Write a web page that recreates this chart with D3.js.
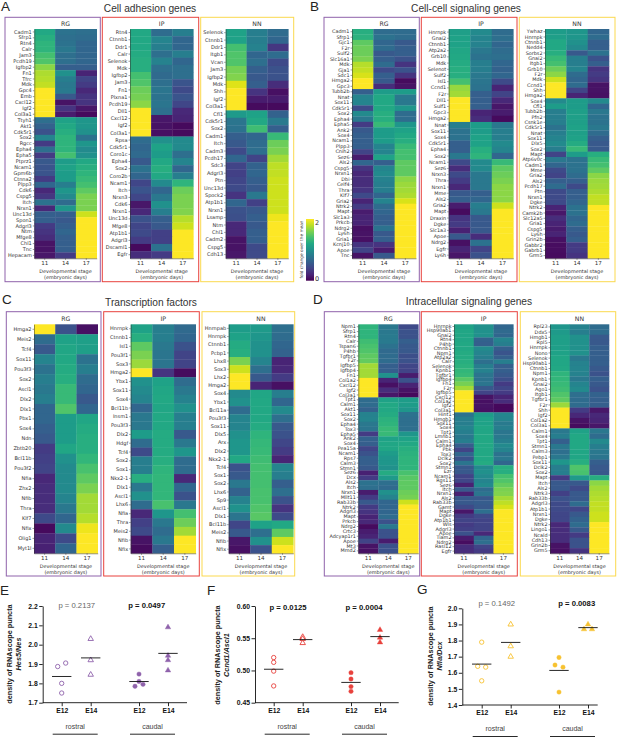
<!DOCTYPE html>
<html lang="en">
<head>
  <meta charset="UTF-8">
  <title>Gene expression heatmaps and RNAscope puncta</title>
  <script src="https://d3js.org/d3.v7.min.js"></script>
  <style>
    body { margin: 0; background: #fff; }
    svg { display: block; }
    text { fill: #333; font-family: "DejaVu Sans", sans-serif; }
    .sans text, text.sans { font-family: "Liberation Sans", Arial, sans-serif; }
    .heat-axis path, .heat-axis line { stroke: #333; stroke-width: 0.5px; }
    .dots-axis path, .dots-axis line { stroke: #111; stroke-width: 0.9px; }
  </style>
</head>
<body>
<svg width="617" height="737" id="figure"></svg>

<script>
  const stages = ['11', '14', '17'];

  // A - cell adhesion genes
  const adhesionRgGenes = ['Cadm1','Sfrp1','Rtn4','Calr','Jam3','Pcdh19','Igfbp2','Fn1','Tfrc','Mdk','Gpc4','Emb','Cxcl12','Igf2','Col3a1','Ttyh1','Akt1','Cdk5r1','Sox2','Rgcc','Epha4','Epha5','Ptprz1','Ncam1','Gpm6b','Ctnna2','Plpp3','Cdk6','Cspg5','Itch','Nrxn1','Unc13d','Spon1','Adgrl3','Ntm','Mfge8','Chl1','Tnc','Hepacam'];
  const adhesionRgValues = [[1.2,.75,.72],[1.25,.72,.7],[1.3,.75,.65],[1.3,.8,.65],[1.4,.72,.65],[1.45,.72,.65],[1.65,.6,.6],[1.75,1,.2],[1.78,.85,.4],[1.82,.8,.35],[2,.82,.22],[2,.55,.3],[2,.1,.3],[2,.3,.12],[2,.15,.05],[.72,1.15,1.05],[.62,1.2,1.05],[.5,1.25,1],[.9,1.3,.75],[.35,1.3,1.05],[.72,1.3,.95],[.35,1.4,1],[.55,1.1,1.2],[.52,1.15,1.25],[.52,1.1,1.3],[.35,1.1,1.35],[.65,.85,1.4],[.22,1.05,1.5],[.32,.95,1.6],[.75,.7,1.6],[.22,1.05,1.6],[.6,.6,1.85],[.6,.55,2],[.35,.6,2],[.3,.65,2],[.25,.6,2],[.1,.6,2],[.1,.6,2],[.12,.35,2]];
  const adhesionIpGenes = ['Rtn4','Ctnnb1','Ddr1','Calr','Selenok','Mdk','Igfbp2','Jam3','Fn1','Plxna1','Pcdh19','Dll1','Cxcl12','Igf2','Col3a1','Rpsa','Cdk5r1','Coro1c','Epha4','Sox2','Coro2b','Ncam1','Itch','Nrxn3','Cdk6','Nrxn1','Unc13d','Mfge8','Atp1b1','Adgrl3','Dscaml1','Egfr'];
  const adhesionIpValues = [[1.2,.7,.85],[1.2,.9,.65],[1.2,.85,.65],[1.22,.72,.85],[1.25,.88,.65],[1.25,.72,.72],[1.4,.68,.72],[1.45,.72,.52],[1.55,.78,.45],[1.58,.75,.52],[1.65,.78,.42],[2,.72,.22],[2,.12,.2],[2,.1,.05],[2,.08,.05],[.7,1,.95],[.65,1.15,.95],[.68,1.1,.72],[.55,1.2,.9],[.75,1.25,.65],[.65,1.2,.85],[.42,.95,1.3],[.52,.65,1.55],[.42,.8,1.6],[.12,1,1.6],[.22,.85,1.62],[.5,.6,1.78],[.42,.55,1.85],[.45,.38,2],[.35,.38,2],[.05,.75,2],[.25,.35,2]];
  const adhesionNnGenes = ['Selenok','Ctnnb1','Ddr1','Itgb1','Vcan','Jam3','Igfbp2','Mdk','Shh','Igf2','Col3a1','Cfl1','Cdk5r1','Sox2','Cadm1','Itch','Cadm3','Pcdh17','Sdc3','Adgrl3','Ptn','Unc13d','Spock2','Atp1b1','Nrxn1','Lsamp','Ntm','Chl1','Cadm2','Cspg5','Cdh13'];
  const adhesionNnValues = [[1.15,.85,.7],[1.15,.85,.65],[1.4,.88,.32],[1.45,.65,.7],[1.45,.72,.45],[1.58,.6,.5],[1.62,.55,.5],[1.9,.6,.25],[2,.3,.08],[2,.15,.15],[2,.06,.05],[1.08,1.15,.62],[.78,1.2,.82],[.75,1.38,.6],[.6,.65,1.35],[.55,.7,1.55],[.45,.72,1.6],[.65,.4,1.72],[.4,.62,1.8],[.38,.65,1.82],[.42,.6,1.85],[.45,.55,1.85],[.3,.8,1.85],[.65,.38,1.85],[.5,.55,1.85],[.48,.6,1.95],[.22,.55,2],[.22,.6,2],[.1,.6,2],[.1,.45,2],[.12,.45,2]];

  // B - cell-cell signaling genes
  const signalingRgGenes = ['Cadm1','Sfrp1','Gjc1','F2r','Sulf2','Slc16a1','Mdk','Gja1','Sdc1','Hmga2','Gpc3','Tubb2b','Nnat','Sox11','Cdk5r1','Sox2','Epha4','Epha5','Ank2','Sox4','Ncam1','Plpp3','Cnih2','Sez6','Als2','Cspg5','Nrxn1','Dbi','Celf4','Thra','Klf7','Gria2','Ntrk2','Mapt','Slc1a3','Prkcb','Ndrg2','Ly6h','Gria1','Kcnj10','Apoe','Tnc'];
  const signalingRgValues = [[1.25,.7,.7],[1.28,.75,.7],[1.5,.65,.55],[1.55,.7,.6],[1.55,.55,.6],[1.6,.6,.5],[1.78,.7,.3],[1.82,.45,.5],[1.88,.6,.3],[2,.55,.06],[2,.25,.1],[.6,1.1,1.1],[.9,1.2,.8],[.9,1.2,.8],[.45,1.2,1.05],[.95,1.25,.7],[.8,1.25,.7],[.35,1.35,1.05],[.55,1.1,1.15],[.6,1.1,1.2],[.6,1.1,1.25],[.6,.9,1.35],[.4,.9,1.4],[.15,1.15,1.4],[.65,.6,1.5],[.3,.9,1.5],[.22,.95,1.5],[.25,.88,1.65],[.25,.85,1.7],[.3,.85,1.72],[.45,.65,1.75],[.2,.9,1.88],[.35,.7,2],[.15,.65,2],[.2,.6,2],[.2,.6,2],[.08,.75,2],[.1,.55,2],[.08,.6,2],[.3,.3,2],[.4,.15,2],[.1,.55,2]];
  const signalingIpGenes = ['Hnrnpk','Gnai2','Ctnnb1','Atp2a2','Grb10','Mdk','Selenot','Sulf2','Isl1','Ccnd1','F2r','Dll1','Sulf1','Gpc3','Hmga2','Nnat','Sox11','Sox4','Cdk5r1','Epha4','Sox2','Ncam1','Sez6','Nrxn3','Thra','Nrxn1','Mme','Als2','Gria2','Mapt','Draxin','Dgke','Slc1a3','Apoe','Ndrg2','Egfr','Ly6h'];
  const signalingIpValues = [[1.12,.95,.7],[1.15,.9,.72],[1.15,.88,.65],[1.18,.8,.7],[1.2,.75,.72],[1.22,.85,.65],[1.25,.85,.62],[1.25,.8,.65],[1.4,.78,.45],[1.68,.75,.2],[1.72,.6,.4],[2,.6,.22],[2,.6,.12],[2,.2,.15],[2,.25,.05],[.85,1.1,.8],[.75,1.1,.85],[.75,1.15,.85],[.6,1.15,.95],[.6,1.25,.9],[.8,1.3,.65],[.45,.95,1.35],[.25,.95,1.5],[.45,.8,1.55],[.35,.8,1.6],[.22,.8,1.65],[.55,.6,1.65],[.6,.65,1.65],[.15,.85,1.85],[.06,.8,2],[.3,.55,2],[.35,.55,2],[.18,.55,2],[.55,.25,2],[.08,.75,2],[.2,.4,2],[.12,.5,2]];
  const signalingNnGenes = ['Ywhaz','Hnrnpk','Ctnnb1','Nedd4','Sorbs2','Gnai2','Itgb1','Grb10','F2r','Mdk','Ccnd1','Shh','Hmga2','Sox4','Cfl1','Tubb2b','Pfn2','Csnk1e','Cdk5r1','Nnat','Sox11','Dlx5','Sox2','Mapt','Atp6v0c','Cadm1','Mme','Gria2','Als2','Pcdh17','Ptn','Nrxn1','Dgke','Ntrk2','Camk2b','Slc12a5','Gria1','Cspg5','Ly6h','Grin2b','Gabbr2','Gabrb1','Grm5'];
  const signalingNnValues = [[1.1,1.05,.65],[1.12,1.05,.7],[1.2,1,.6],[1.2,.95,.6],[1.25,.55,.75],[1.35,.85,.5],[1.4,.85,.6],[1.55,.9,.3],[1.65,.7,.35],[1.85,.65,.3],[2,.7,.1],[2,.4,.1],[2,.2,.08],[.95,1.1,.95],[1.1,1.1,.65],[.85,1.12,.8],[.85,1.12,.75],[.85,1.12,.75],[.75,1.15,.8],[.85,1.12,.7],[.9,1.15,.6],[.95,1.22,.55],[.85,1.35,.55],[.4,1.1,1.25],[.8,.75,1.35],[.65,.75,1.4],[.45,.75,1.5],[.4,.7,1.65],[.6,.6,1.7],[.7,.45,1.72],[.45,.6,1.75],[.45,.6,1.82],[.45,.65,1.82],[.2,.75,2],[.12,.75,2],[.25,.65,2],[.2,.7,2],[.15,.6,2],[.2,.55,2],[.08,.6,2],[.07,.35,2],[.07,.35,2],[.06,.3,2]];

  // C - transcription factors
  const factorRgGenes = ['Hmga2','Meis2','Tcf4','Sox11','Pou3f3','Sox2','Ascl1','Dlx2','Dlx1','Pbx1','Sox4','Ndn','Zbtb20','Bcl11b','Pou3f2','Nfia','Zhx2','Nfib','Thra','Klf7','Nfix','Olig1','Myt1l'];
  const factorRgValues = [[2,.5,.08],[.7,1.15,1.12],[.55,1.18,1.12],[.9,1.2,.75],[.75,1.22,.85],[.85,1.25,.7],[.8,1.35,.65],[.85,1.35,.55],[.65,1.45,.65],[.65,1.1,1.18],[.6,1.1,1.22],[.55,1.1,1.25],[.35,1.18,1.25],[.38,1,1.32],[.4,.95,1.42],[.22,.95,1.5],[.25,.95,1.6],[.25,.9,1.72],[.25,.8,1.72],[.45,.65,1.78],[.05,.95,1.95],[.2,.45,2],[.18,.65,2]];
  const factorIpGenes = ['Hnrnpk','Ctnnb1','Isl1','Pou3f1','Sox3','Hmga2','Ybx1','Sox11','Sox4','Bcl11b','Insm1','Pou3f3','Dlx2','Hdgf','Tcf4','Sox2','Sox1','Nkx2-1','Dlx1','Ascl1','Lhx6','Nfia','Thra','Meis2','Nfib','Nfix'];
  const factorIpValues = [[1.15,.85,.68],[1.25,.85,.65],[1.5,.8,.5],[1.6,.78,.4],[1.7,.78,.4],[2,.3,.06],[1,1.15,.7],[.95,1.18,.8],[.9,1.2,.88],[.65,1.18,1],[.8,1.2,.85],[.8,1.2,.85],[1.1,1.22,.55],[.7,1.22,.8],[.45,1.22,1.05],[.85,1.25,.7],[.85,1.3,.7],[1.25,1.32,.22],[.8,1.32,.65],[1,1.32,.5],[.7,1.42,.8],[.22,1.05,1.4],[.38,.8,1.55],[.45,.7,1.72],[.1,.8,2],[.06,.6,2]];
  const factorNnGenes = ['Hnrnpab','Hnrnpk','Ctnnb1','Pcbp1','Lhx8','Sox3','Lhx2','Hmga2','Sox4','Ybx1','Bcl11a','Pou3f3','Sox11','Dlx5','Arx','Dlx2','Nkx2-1','Tcf4','Sox1','Sox2','Lhx6','Sp9','Ascl1','Dlx1','Bcl11b','Meis2','Nfib','Nfix'];
  const factorNnValues = [[1.1,1.08,.72],[1.15,1.05,.7],[1.22,1,.65],[1.25,1,.62],[1.6,.9,.2],[1.85,.72,.22],[2,.55,.35],[2,.2,.08],[.95,1.18,.85],[1,1.2,.65],[.7,1.2,.95],[.9,1.2,.72],[.9,1.22,.55],[1,1.3,.5],[1.05,1.33,.42],[1.05,1.35,.35],[1.2,1.38,.2],[.5,1.4,.9],[.55,1.4,.85],[.8,1.4,.6],[.62,1.42,.72],[.88,1.42,.5],[1.02,1.45,.3],[.78,1.48,.45],[.42,1.15,1.2],[.55,.72,1.5],[.12,1,1.85],[.08,.5,2]];

  // D - intracellular signaling genes
  const intraRgGenes = ['Npm1','Sfrp1','Rtn4','Calr','Tspan6','P4hb','Tgfbr1','F2r','Igfbp5','Igfbp4','Fn1','Col1a2','Cxcl12','Igf2','Col3a1','Tpt1','Calm1','Akt1','Sox11','Sox2','Epha4','Tox3','Epha5','Ank2','Sox4','Pea15a','Ncam1','Rps7','Calm3','Stmn1','Sez6','Dcx','Als2','Itch','Nrxn1','Mllt11','Rab33b','Ntrk2','Adgrl3','Mapt','Prkcb','Ndrg2','Crtc3','Adcyap1r1','Apoe','Mt3','Mmd2'];
  const intraRgValues = [[1.3,.8,.45],[1.3,.8,.5],[1.3,.82,.5],[1.38,.82,.6],[1.42,.75,.55],[1.45,.68,.55],[1.5,.7,.48],[1.52,.7,.5],[1.72,.6,.42],[1.72,.6,.4],[1.72,1,.15],[2,.2,.5],[2,.08,.2],[2,.25,.1],[2,.12,.04],[.7,1.15,1.1],[.7,1.2,1.1],[.62,1.2,1.05],[.88,1.22,.75],[.9,1.28,.72],[.8,1.3,.72],[.78,1.35,.72],[.35,1.35,1.05],[.62,1.15,1.15],[.6,1.18,1.2],[.42,1.18,1.25],[.5,1.1,1.28],[.6,1.05,1.3],[.6,1.05,1.3],[.55,1,1.3],[.18,1.22,1.42],[.35,1.08,1.48],[.75,.72,1.5],[.72,.68,1.5],[.15,1,1.55],[.35,.9,1.58],[.55,.65,1.85],[.35,.65,2],[.3,.65,2],[.2,.7,2],[.22,.5,2],[.06,.8,2],[.15,.5,2],[.2,.5,2],[.4,.15,2],[.1,.5,2],[.08,.5,2]];
  const intraIpGenes = ['Hnrnpk','Hsp90ab1','Gnai2','Rtn4','P4hb','Ctnnb1','Npm1','Atp2a2','Calr','Selenok','Kpnb1','Tgfbr1','Igfbp4','Fn1','F2r','Igfbp5','Cxcl12','Col1a2','Igf2','Col3a1','Hint1','Hmgb1','Sox11','Sox4','Tpt1','Lmnb1','Calm1','Epha4','Pbk','Tox3','Dclk2','Sox2','Stmn1','Ezr','Ncam1','Rgs11','Sez6','Itch','Nrxn1','Als2','Rab33b','Gamt','Mapt','Dgke','Atp1b1','Wls','Adgrl3','Apoe','Tiam2','Ndrg2','Rasl12','Egfr'];
  const intraIpValues = [[1.15,1,.65],[1.18,1,.68],[1.18,1,.65],[1.18,.62,.9],[1.2,.6,.85],[1.2,.95,.6],[1.22,.9,.52],[1.22,.85,.6],[1.25,.72,.85],[1.28,.85,.6],[1.32,.88,.6],[1.35,.78,.55],[1.48,.75,.48],[1.58,.78,.35],[1.72,.55,.42],[2,.4,.35],[2,.1,.2],[2,.08,.25],[2,.1,.04],[2,.08,.04],[.75,1.1,.92],[.85,1.15,.9],[.85,1.15,.82],[.9,1.18,.85],[.85,1.18,.78],[.8,1.2,.8],[.85,1.2,.85],[.6,1.2,.95],[.4,1.2,.9],[.65,1.2,.75],[.5,1.2,.8],[.78,1.22,.65],[.55,.95,1.25],[.55,1,1.25],[.4,.95,1.4],[.42,.9,1.45],[.18,.95,1.52],[.55,.7,1.6],[.18,.78,1.62],[.55,.55,1.72],[.55,.58,1.8],[.45,.55,1.88],[.12,.72,2],[.35,.45,2],[.4,.4,2],[.35,.4,2],[.38,.4,2],[.5,.22,2],[.15,.65,2],[.07,.72,2],[.25,.4,2],[.25,.35,2]];
  const intraNnGenes = ['Rpl23','Ddx5','Hmgb1','Rpl5','Hnrnpk','Nono','Selenok','Hsp90ab1','Ctnnb1','Npm1','Kpnb1','Gnai2','Ago1','Itgb1','Tgfbr1','F2r','Shh','Igf2','Col1a2','Col3a1','Calm1','Sox4','Tpt1','Stmn1','Calm3','Pebp1','Sox11','Dclk2','Sox2','Mapt','Itch','Als2','Ntrk3','Rab33b','Adgrl3','Atp1b1','Nrxn1','Dgke','Ntrk2','Lingo1','Ncald','Cdh13','Grin2b','Grm5'];
  const intraNnValues = [[1.05,.88,.7],[1.08,.85,.7],[1.12,1,.55],[1.12,1,.55],[1.12,1,.6],[1.15,1,.6],[1.18,.8,.6],[1.18,.88,.6],[1.2,.9,.55],[1.3,.88,.5],[1.32,.8,.6],[1.35,.9,.55],[1.38,.95,.5],[1.45,.72,.62],[1.5,.7,.6],[1.7,.7,.6],[2,.35,.12],[2,.22,.22],[2,.1,.2],[2,.06,.12],[.8,1.15,.8],[.85,1.2,.7],[.6,1.2,.95],[.8,1.2,.85],[.72,1.18,.8],[.8,1.18,.78],[1.05,1.25,.6],[.85,1.45,.55],[.85,1.42,.55],[.35,1.08,1.25],[.55,.55,1.65],[.55,.45,1.72],[.38,.55,1.75],[.5,.55,1.78],[.45,.7,1.82],[.45,.42,1.82],[.42,.55,1.85],[.42,.62,1.85],[.22,.7,2],[.25,.55,2],[.25,.35,2],[.25,.5,2],[.1,.5,2],[.08,.3,2]];

  // E, F, G - puncta density, one array per group
  const hesRostralE12 = [1.887, 1.905, 1.80, 1.75];
  const hesRostralE14 = [2.03, 1.92, 1.845];
  const hesCaudalE12 = [1.848, 1.81, 1.795, 1.785];
  const hesCaudalE14 = [2.09, 1.943, 1.92, 1.867];
  const ccndRostralE12 = [0.52, 0.5126, 0.499, 0.476];
  const ccndRostralE14 = [0.552, 0.549, 0.5426];
  const ccndCaudalE12 = [0.4966, 0.4867, 0.475, 0.4676];
  const ccndCaudalE14 = [0.563, 0.551, 0.5436];
  const nfiaRostralE12 = [1.79, 1.64, 1.635, 1.55];
  const nfiaRostralE14 = [1.9, 1.765, 1.70];
  const nfiaCaudalE12 = [1.695, 1.648, 1.635, 1.48];
  const nfiaCaudalE14 = [1.9, 1.87, 1.87];

  const purple = '#8f62ab', red = '#e8413c', yellow = '#fbd94e';
  const svg = d3.select('#figure');
  const color = d3.scaleSequential(d3.interpolateViridis).domain([0, 2]);

  function heatmap(cfg) {
    const g = svg.append('g');
    const [boxL, boxR] = cfg.box;
    g.append('rect')
      .attr('x', boxL).attr('y', cfg.top).attr('width', boxR - boxL).attr('height', cfg.bottom - cfg.top)
      .attr('fill', 'none').attr('stroke', cfg.stroke).attr('stroke-width', 1);

    const x = d3.scaleBand().domain(stages).range(cfg.xr);
    const y = d3.scaleBand().domain(cfg.genes).range(cfg.yr);

    cfg.genes.forEach((gene, i) => {
      g.selectAll(null).data(cfg.values[i]).enter().append('rect')
        .attr('x', (d, j) => x(stages[j]))
        .attr('y', y(gene))
        .attr('width', x.bandwidth() + 0.3)
        .attr('height', y.bandwidth() + 0.3)
        .attr('fill', d => color(d));
    });

    const left = g.append('g').attr('class', 'heat-axis')
      .attr('transform', `translate(${cfg.xr[0]},0)`)
      .call(d3.axisLeft(y).tickSize(1.5).tickPadding(1).tickSizeOuter(0));
    left.selectAll('text').style('font-size', cfg.labelSize + 'px');

    const bottom = g.append('g').attr('class', 'heat-axis')
      .attr('transform', `translate(0,${cfg.yr[1]})`)
      .call(d3.axisBottom(x).tickSize(1.5).tickPadding(1.5).tickSizeOuter(0));
    bottom.selectAll('text').style('font-size', '5.6px');

    const cx = (cfg.xr[0] + cfg.xr[1]) / 2;
    g.append('text').attr('x', cx).attr('y', cfg.yr[0] - 3.5).attr('text-anchor', 'middle')
      .style('font-size', '6.2px').text(cfg.name);
    g.append('text').attr('x', cx).attr('y', cfg.yr[1] + 14.2).attr('text-anchor', 'middle')
      .style('font-size', '4.9px').text('Developmental stage');
    g.append('text').attr('x', cx).attr('y', cfg.yr[1] + 20.3).attr('text-anchor', 'middle')
      .style('font-size', '4.9px').text('(embryonic days)');
  }

  const upper = { top: 17.3, bottom: 281.7, yr: [29, 258.3] };
  const lower = { top: 311.7, bottom: 576, yr: [324.3, 553.3] };

  [
    { ...upper, name: 'RG', stroke: purple, genes: adhesionRgGenes, values: adhesionRgValues, xr: [34.3, 96.7], box: [5, 100.3], labelSize: 5 },
    { ...upper, name: 'IP', stroke: red, genes: adhesionIpGenes, values: adhesionIpValues, xr: [130, 193.3], box: [102.3, 198.7], labelSize: 5 },
    { ...upper, name: 'NN', stroke: yellow, genes: adhesionNnGenes, values: adhesionNnValues, xr: [225.7, 288.3], box: [200.7, 293.7], labelSize: 5 },
    { ...upper, name: 'RG', stroke: purple, genes: signalingRgGenes, values: signalingRgValues, xr: [352, 416], box: [324, 419.3], labelSize: 4.9 },
    { ...upper, name: 'IP', stroke: red, genes: signalingIpGenes, values: signalingIpValues, xr: [448.7, 513.3], box: [421.3, 517], labelSize: 4.9 },
    { ...upper, name: 'NN', stroke: yellow, genes: signalingNnGenes, values: signalingNnValues, xr: [545, 609], box: [519.3, 615], labelSize: 4.9 },
    { ...lower, name: 'RG', stroke: purple, genes: factorRgGenes, values: factorRgValues, xr: [34, 97.7], box: [6.3, 101], labelSize: 5 },
    { ...lower, name: 'IP', stroke: red, genes: factorIpGenes, values: factorIpValues, xr: [130.7, 195.7], box: [103.7, 199.3], labelSize: 5 },
    { ...lower, name: 'NN', stroke: yellow, genes: factorNnGenes, values: factorNnValues, xr: [228.7, 293.3], box: [202, 294.7], labelSize: 5 },
    { ...lower, name: 'RG', stroke: purple, genes: intraRgGenes, values: intraRgValues, xr: [358.3, 418.3], box: [324.3, 419.7], labelSize: 4.9 },
    { ...lower, name: 'IP', stroke: red, genes: intraIpGenes, values: intraIpValues, xr: [454, 513.3], box: [421.3, 517.3], labelSize: 4.9 },
    { ...lower, name: 'NN', stroke: yellow, genes: intraNnGenes, values: intraNnValues, xr: [550, 609], box: [520.3, 615.7], labelSize: 4.9 }
  ].forEach(heatmap);

  // colour bar shared by the heatmaps
  const defs = svg.append('defs');
  const grad = defs.append('linearGradient').attr('id', 'viridisBar')
    .attr('x1', 0).attr('x2', 0).attr('y1', 1).attr('y2', 0);
  d3.range(0, 1.01, 0.1).forEach(t => {
    grad.append('stop').attr('offset', t).attr('stop-color', d3.interpolateViridis(t));
  });
  svg.append('rect').attr('x', 306).attr('y', 219).attr('width', 8).attr('height', 61.7).attr('fill', 'url(#viridisBar)');
  const barScale = d3.scaleLinear().domain([0, 2]).range([278, 222]);
  const barAxis = svg.append('g').attr('transform', 'translate(314,0)')
    .call(d3.axisRight(barScale).tickValues([0, 2]).tickFormat(d3.format('d')).tickSize(0).tickPadding(1));
  barAxis.select('.domain').remove();
  barAxis.selectAll('text').style('font-size', '6.5px');
  svg.append('text').attr('transform', 'translate(303,249.5) rotate(-90)').attr('text-anchor', 'middle')
    .style('font-size', '4.3px').text('fold change over the mean');

  // panel letters and titles
  const letters = svg.append('g').attr('class', 'sans');
  [['A', 1, 11], ['B', 310, 11], ['C', 2, 304], ['D', 313, 304], ['E', 0, 595], ['F', 207, 595], ['G', 417, 594]].forEach(l => {
    letters.append('text').attr('x', l[1]).attr('y', l[2]).style('font-size', '13.5px').style('fill', '#222').text(l[0]);
  });
  [['Cell adhesion genes', 150, 12], ['Cell-cell signaling genes', 466, 12], ['Transcription factors', 151, 305.5], ['Intracellular signaling genes', 469, 305]].forEach(t => {
    letters.append('text').attr('x', t[1]).attr('y', t[2]).attr('text-anchor', 'middle').style('font-size', '10.2px').text(t[0]);
  });

  function dots(cfg) {
    const g = svg.append('g').attr('class', 'sans');
    const y = d3.scaleLinear().domain(cfg.domain).range(cfg.yr);
    const region = d3.scalePoint().domain(['rostral', 'caudal']).range(cfg.centers);
    const stage = d3.scalePoint().domain(['E12', 'E14']).range([-14.5, 14.5]);
    const keys = ['rostral E12', 'rostral E14', 'caudal E12', 'caudal E14'];
    const x = d3.scaleOrdinal().domain(keys).range(keys.map(k => region(k.split(' ')[0]) + stage(k.split(' ')[1])));

    const yAxis = g.append('g').attr('class', 'dots-axis')
      .attr('transform', `translate(${cfg.axisX},0)`)
      .call(d3.axisLeft(y).tickValues(cfg.ticks).tickFormat(d3.format(cfg.fmt)).tickSize(3.5).tickPadding(1.5).tickSizeOuter(0));
    yAxis.selectAll('text').style('font-size', '6.8px').style('font-weight', 'bold').style('fill', '#111').style('font-family', '"Liberation Sans", Arial, sans-serif');

    const xAxis = g.append('g').attr('class', 'dots-axis')
      .attr('transform', `translate(0,${cfg.yr[0]})`)
      .call(d3.axisBottom(x).tickFormat(k => k.split(' ')[1]).tickSize(3.5).tickPadding(2).tickSizeOuter(0));
    xAxis.select('.domain').remove();
    xAxis.selectAll('text').style('font-size', '6.8px').style('font-weight', 'bold').style('fill', '#111').style('font-family', '"Liberation Sans", Arial, sans-serif');
    xAxis.append('line').attr('x1', cfg.axisX).attr('x2', cfg.axisEnd);

    cfg.groups.forEach((values, i) => {
      const key = keys[i];
      const cx = x(key);
      const filled = key.startsWith('caudal');
      const shape = key.endsWith('E12') ? d3.symbolCircle : d3.symbolTriangle;

      // near-equal values sit side by side, as the prism swarm does
      const clusters = [];
      values.forEach(v => {
        const last = clusters[clusters.length - 1];
        if (last && Math.abs(y(last[last.length - 1]) - y(v)) < cfg.dodge) last.push(v);
        else clusters.push([v]);
      });
      clusters.forEach(c => {
        const offsets = c.length === 1 ? [0] : c.length === 2 ? [-4, 4] : [0, 4, -4];
        c.forEach((v, j) => {
          g.append('path')
            .attr('d', d3.symbol().type(shape).size(key.endsWith('E12') ? 15 : 13))
            .attr('transform', `translate(${cx + offsets[j]},${y(v)})`)
            .attr('fill', filled ? cfg.color : '#fff')
            .attr('stroke', cfg.color)
            .attr('stroke-width', filled ? 0.4 : 0.9);
        });
      });

      const m = y(d3.mean(values));
      g.append('line').attr('x1', cx - 9.7).attr('x2', cx + 9.7).attr('y1', m).attr('y2', m)
        .attr('stroke', '#111').attr('stroke-width', 0.9);
    });

    ['rostral', 'caudal'].forEach(r => {
      g.append('text').attr('x', region(r) - 1).attr('y', cfg.yr[0] + 26).attr('text-anchor', 'middle')
        .style('font-size', '7px').style('fill', '#444').text(r);
      g.append('line').attr('x1', region(r) - 23.5).attr('x2', region(r) + 21.5)
        .attr('y1', cfg.yr[0] + 31.5).attr('y2', cfg.yr[0] + 31.5)
        .attr('stroke', '#111').attr('stroke-width', 0.9);
    });

    cfg.pValues.forEach((p, i) => {
      g.append('text').attr('x', p[1]).attr('y', cfg.pY).attr('text-anchor', 'middle')
        .style('font-size', '7.7px')
        .style('font-weight', i === 0 && !cfg.bothBold ? 'normal' : 'bold')
        .style('fill', i === 0 && !cfg.bothBold ? '#666' : '#111')
        .text(p[0]);
    });

    g.append('text').attr('transform', `translate(${cfg.labelX},${cfg.labelY}) rotate(-90)`)
      .attr('text-anchor', 'middle').style('font-size', '7.3px').style('font-weight', 'bold').style('fill', '#222')
      .text('density of RNAscope puncta');
    g.append('text').attr('transform', `translate(${cfg.labelX + 9.5},${cfg.labelY}) rotate(-90)`)
      .attr('text-anchor', 'middle').style('font-size', '7.3px').style('font-weight', 'bold').style('font-style', 'italic').style('fill', '#222')
      .text(cfg.gene);
  }

  dots({
    domain: [1.7, 2.2], yr: [702.7, 606], ticks: [1.7, 1.8, 1.9, 2.0, 2.1, 2.2], fmt: '.1f', dodge: 4,
    centers: [76.2, 153.5], axisX: 42.7, axisEnd: 187, color: purple,
    groups: [hesRostralE12, hesRostralE14, hesCaudalE12, hesCaudalE14],
    pValues: [['p = 0.2137', 76.7], ['p = 0.0497', 146.7]], pY: 607.5,
    gene: 'Hes5/Nes', labelX: 11.5, labelY: 654
  });
  dots({
    domain: [0.45, 0.6], yr: [702.7, 606], ticks: [0.45, 0.5, 0.55, 0.6], fmt: '.2f', dodge: 1,
    centers: [288.2, 365.5], axisX: 255, axisEnd: 398.7, color: red,
    groups: [ccndRostralE12, ccndRostralE14, ccndCaudalE12, ccndCaudalE14],
    pValues: [['p = 0.0125', 288], ['p = 0.0004', 364]], pY: 609.5, bothBold: true,
    gene: 'Ccnd1/Ascl1', labelX: 219.5, labelY: 655
  });
  dots({
    domain: [1.4, 2.0], yr: [705, 608.3], ticks: [1.4, 1.5, 1.6, 1.7, 1.8, 1.9, 2.0], fmt: '.1f', dodge: 3,
    centers: [496.2, 573.5], axisX: 462.3, axisEnd: 597.7, color: '#f7c231',
    groups: [nfiaRostralE12, nfiaRostralE14, nfiaCaudalE12, nfiaCaudalE14],
    pValues: [['p = 0.1492', 496.7], ['p = 0.0083', 576.7]], pY: 605.5,
    gene: 'Nfia/Dcx', labelX: 432.5, labelY: 656
  });
</script>
</body>
</html>
